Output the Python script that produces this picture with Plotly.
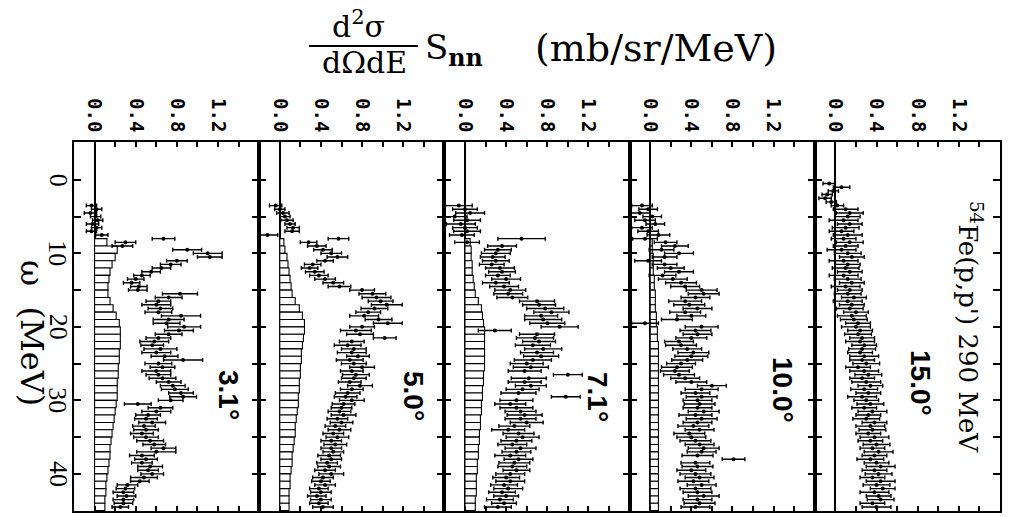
import plotly.graph_objects as go

# ---------------- data ----------------
OMEGA = [3.5, 4.0, 4.5, 5.0, 5.5, 6.0, 6.5, 7.0, 7.5,
         8.0, 8.5, 9.0, 9.5, 10.0, 10.5, 11.0, 11.5, 12.0, 12.5, 13.0, 13.5, 14.0, 14.5, 15.0,
         15.5, 16.0, 16.5, 17.0, 17.5, 18.0, 18.5, 19.0, 19.5, 20.0, 20.5, 21.0, 21.5, 22.0, 22.5,
         23.0, 23.5, 24.0, 24.5, 25.0, 25.5, 26.0, 26.5, 27.0, 27.5, 28.0, 28.5, 29.0, 29.5, 30.0,
         30.5, 31.0, 31.5, 32.0, 32.5, 33.0, 33.5, 34.0, 34.5, 35.0, 35.5, 36.0, 36.5, 37.0, 37.5,
         38.0, 38.5, 39.0, 39.5, 40.0, 40.5, 41.0, 41.5, 42.0, 42.5, 43.0, 43.5, 44.0, 44.5]

OMEGA_15 = [0.5, 1.0, 1.5, 2.0, 2.5, 3.0] + OMEGA

HIST_OMEGA = [8.5, 9.5, 10.5, 11.5, 12.5, 13.5, 14.5, 15.5, 16.5, 17.5, 18.5, 19.5, 20.5,
              21.5, 22.5, 23.5, 24.5, 25.5, 26.5, 27.5, 28.5, 29.5, 30.5, 31.5, 32.5, 33.5,
              34.5, 35.5, 36.5, 37.5, 38.5, 39.5, 40.5, 41.5, 42.5, 43.5, 44.5]

ANGLES = ["3.1°", "5.0°", "7.1°", "10.0°", "15.0°"]

VAL_31 = [-0.03, 0.02, -0.04, 0.01, 0.03, -0.02, 0.02, -0.03, 0.07,
          0.67, 0.30, 0.27, 0.90, 1.10, 1.12, 0.80, 0.74, 0.65, 0.55, 0.46, 0.40, 0.36, 0.43, 0.42,
          0.83, 0.72, 0.62, 0.60, 0.64, 0.62, 0.84, 0.72, 0.70, 0.87, 0.82, 0.72, 0.62, 0.58, 0.56,
          0.64, 0.60, 0.68, 0.86, 0.62, 0.66, 0.60, 0.62, 0.66, 0.72, 0.76, 0.78, 0.84, 0.86, 0.74,
          0.42, 0.64, 0.60, 0.52, 0.50, 0.56, 0.48, 0.50, 0.46, 0.50, 0.54, 0.58, 0.67, 0.60, 0.46,
          0.50, 0.46, 0.54, 0.52, 0.56, 0.48, 0.44, 0.32, 0.30, 0.28, 0.31, 0.28, 0.28, 0.25]
ERR_31 = [0.05, 0.05, 0.06, 0.05, 0.05, 0.06, 0.05, 0.05, 0.06,
          0.11, 0.10, 0.10, 0.14, 0.14, 0.12, 0.10, 0.10, 0.09, 0.09, 0.08, 0.08, 0.08, 0.08, 0.09,
          0.17, 0.13, 0.12, 0.14, 0.12, 0.13, 0.19, 0.15, 0.13, 0.16, 0.14, 0.13, 0.12, 0.14, 0.11,
          0.16, 0.14, 0.13, 0.19, 0.13, 0.12, 0.14, 0.12, 0.13, 0.12, 0.12, 0.13, 0.12, 0.13, 0.12,
          0.13, 0.12, 0.14, 0.12, 0.11, 0.13, 0.11, 0.12, 0.11, 0.12, 0.13, 0.11, 0.12, 0.19, 0.12,
          0.11, 0.10, 0.12, 0.10, 0.11, 0.13, 0.09, 0.10, 0.09, 0.10, 0.09, 0.10, 0.09, 0.08]
HIST_31 = [0.12, 0.22, 0.20, 0.17, 0.15, 0.14, 0.13, 0.13, 0.15, 0.18, 0.21, 0.24, 0.25,
           0.25, 0.25, 0.24, 0.24, 0.23, 0.23, 0.22, 0.22, 0.22, 0.21, 0.20, 0.19, 0.18,
           0.17, 0.16, 0.15, 0.15, 0.14, 0.13, 0.12, 0.11, 0.11, 0.10, 0.10]

VAL_50 = [-0.04, 0.00, 0.03, 0.05, 0.07, 0.10, 0.13, 0.12, -0.12,
          0.57, 0.28, 0.36, 0.42, 0.50, 0.56, 0.44, 0.32, 0.29, 0.34, 0.38, 0.44, 0.52, 0.58, 0.80,
          0.90, 0.94, 0.98, 1.04, 0.92, 0.86, 0.82, 0.96, 1.05, 0.80, 0.74, 0.78, 1.02, 0.70, 0.66,
          0.72, 0.70, 0.76, 0.68, 0.72, 0.80, 0.70, 0.74, 0.72, 0.68, 0.78, 0.70, 0.66, 0.64, 0.70,
          0.62, 0.60, 0.58, 0.62, 0.56, 0.60, 0.54, 0.58, 0.52, 0.56, 0.50, 0.54, 0.50, 0.52, 0.48,
          0.50, 0.46, 0.48, 0.44, 0.50, 0.42, 0.40, 0.44, 0.38, 0.40, 0.36, 0.40, 0.38, 0.42]
ERR_50 = [0.06, 0.05, 0.06, 0.05, 0.06, 0.05, 0.06, 0.07, 0.10,
          0.10, 0.08, 0.09, 0.09, 0.10, 0.10, 0.08, 0.08, 0.08, 0.09, 0.09, 0.10, 0.10, 0.11, 0.12,
          0.13, 0.14, 0.12, 0.15, 0.13, 0.12, 0.14, 0.13, 0.14, 0.12, 0.15, 0.13, 0.11, 0.12, 0.13,
          0.12, 0.14, 0.11, 0.13, 0.12, 0.12, 0.11, 0.13, 0.12, 0.11, 0.12, 0.11, 0.12, 0.11, 0.12,
          0.11, 0.10, 0.11, 0.12, 0.10, 0.11, 0.10, 0.11, 0.10, 0.11, 0.10, 0.11, 0.10, 0.10, 0.11,
          0.10, 0.10, 0.11, 0.10, 0.12, 0.10, 0.09, 0.10, 0.09, 0.10, 0.09, 0.10, 0.09, 0.10]
HIST_50 = [0.04, 0.05, 0.07, 0.08, 0.09, 0.10, 0.11, 0.12, 0.15, 0.19, 0.22, 0.24, 0.24,
           0.23, 0.22, 0.21, 0.21, 0.20, 0.20, 0.19, 0.19, 0.18, 0.18, 0.17, 0.16, 0.15,
           0.15, 0.14, 0.13, 0.12, 0.12, 0.11, 0.10, 0.10, 0.09, 0.09, 0.09]

VAL_71 = [-0.06, 0.00, 0.05, -0.10, 0.02, -0.04, 0.00, 0.02, -0.03,
          0.55, 0.02, 0.36, 0.32, 0.30, 0.27, 0.30, 0.26, 0.34, 0.36, 0.32, 0.40, 0.30, 0.38, 0.44,
          0.42, 0.46, 0.70, 0.72, 0.78, 0.84, 0.74, 0.76, 0.80, 0.92, 0.29, 0.70, 0.68, 0.72, 0.66,
          0.76, 0.70, 0.74, 0.66, 0.60, 0.64, 0.58, 1.00, 0.62, 0.58, 0.64, 0.56, 0.52, 0.98, 0.50,
          0.44, 0.50, 0.54, 0.58, 0.54, 0.60, 0.48, 0.42, 0.52, 0.56, 0.50, 0.46, 0.54, 0.50, 0.44,
          0.52, 0.48, 0.46, 0.50, 0.44, 0.40, 0.44, 0.38, 0.42, 0.36, 0.40, 0.34, 0.38, 0.32]
ERR_71 = [0.13, 0.12, 0.14, 0.12, 0.13, 0.14, 0.12, 0.13, 0.12,
          0.23, 0.12, 0.14, 0.13, 0.14, 0.12, 0.13, 0.12, 0.14, 0.13, 0.12, 0.14, 0.13, 0.14, 0.15,
          0.14, 0.15, 0.17, 0.16, 0.18, 0.17, 0.16, 0.18, 0.17, 0.18, 0.16, 0.17, 0.18, 0.16, 0.17,
          0.18, 0.16, 0.17, 0.18, 0.16, 0.17, 0.16, 0.14, 0.17, 0.16, 0.15, 0.16, 0.17, 0.14, 0.16,
          0.15, 0.16, 0.15, 0.17, 0.15, 0.16, 0.15, 0.16, 0.15, 0.16, 0.15, 0.14, 0.15, 0.14, 0.15,
          0.14, 0.15, 0.14, 0.13, 0.14, 0.13, 0.14, 0.13, 0.14, 0.13, 0.12, 0.13, 0.12, 0.13]
HIST_71 = [0.05, 0.06, 0.06, 0.07, 0.07, 0.08, 0.09, 0.10, 0.13, 0.16, 0.17, 0.18, 0.19,
           0.19, 0.19, 0.19, 0.19, 0.19, 0.18, 0.18, 0.17, 0.17, 0.16, 0.16, 0.15, 0.15,
           0.14, 0.14, 0.13, 0.13, 0.12, 0.12, 0.11, 0.11, 0.11, 0.10, 0.10]

VAL_100 = [-0.08, -0.02, -0.10, 0.02, -0.05, 0.05, -0.08, -0.02, 0.08,
           -0.05, 0.15, 0.24, 0.11, 0.28, 0.14, -0.02, 0.14, 0.20, 0.28, 0.12, 0.22, 0.30, 0.34, 0.50,
           0.52, 0.44, 0.34, 0.38, 0.46, 0.34, 0.40, 0.26, -0.05, 0.50, 0.44, 0.46, 0.40, 0.28, 0.30,
           0.36, 0.42, 0.40, 0.36, 0.30, 0.26, 0.24, 0.28, 0.34, 0.40, 0.60, 0.50, 0.44, 0.50, 0.46,
           0.48, 0.46, 0.52, 0.44, 0.50, 0.46, 0.42, 0.48, 0.38, 0.40, 0.44, 0.48, 0.52, 0.50, 0.46,
           0.81, 0.44, 0.46, 0.40, 0.44, 0.48, 0.42, 0.50, 0.44, 0.46, 0.52, 0.46, 0.48, 0.44]
ERR_100 = [0.10, 0.09, 0.10, 0.09, 0.10, 0.09, 0.10, 0.10, 0.11,
           0.12, 0.11, 0.13, 0.12, 0.14, 0.12, 0.13, 0.12, 0.13, 0.14, 0.13, 0.14, 0.15, 0.14, 0.15,
           0.15, 0.14, 0.16, 0.15, 0.14, 0.15, 0.14, 0.15, 0.13, 0.16, 0.15, 0.14, 0.15, 0.14, 0.15,
           0.14, 0.15, 0.16, 0.15, 0.14, 0.15, 0.14, 0.15, 0.14, 0.15, 0.14, 0.16, 0.14, 0.15, 0.14,
           0.15, 0.14, 0.15, 0.16, 0.15, 0.14, 0.15, 0.14, 0.15, 0.14, 0.15, 0.14, 0.15, 0.14, 0.15,
           0.11, 0.14, 0.15, 0.14, 0.15, 0.14, 0.15, 0.14, 0.15, 0.14, 0.15, 0.14, 0.15, 0.14]
HIST_100 = [0.02, 0.02, 0.03, 0.03, 0.03, 0.04, 0.04, 0.05, 0.05, 0.05, 0.06, 0.06, 0.07,
            0.07, 0.08, 0.08, 0.08, 0.08, 0.08, 0.08, 0.08, 0.08, 0.08, 0.08, 0.08, 0.08,
            0.08, 0.08, 0.08, 0.08, 0.08, 0.08, 0.08, 0.08, 0.08, 0.08, 0.08]

VAL_150 = [-0.06, 0.06, -0.02, -0.08, -0.10, -0.04,
           0.02, 0.10, 0.14, 0.12, 0.08, 0.14, 0.10, 0.06, 0.12,
           0.08, 0.14, 0.10, 0.06, 0.12, 0.16, 0.08, 0.12, 0.10, 0.14, 0.08, 0.12, 0.16, 0.10, 0.14,
           0.12, 0.18, 0.12, 0.16, 0.14, 0.20, 0.16, 0.18, 0.22, 0.20, 0.24, 0.22, 0.26, 0.24, 0.28,
           0.26, 0.24, 0.28, 0.26, 0.30, 0.22, 0.28, 0.32, 0.26, 0.30, 0.34, 0.28, 0.32, 0.26, 0.30,
           0.34, 0.28, 0.36, 0.32, 0.30, 0.38, 0.34, 0.36, 0.32, 0.38, 0.34, 0.40, 0.36, 0.42, 0.38,
           0.34, 0.40, 0.44, 0.38, 0.42, 0.36, 0.44, 0.40, 0.46, 0.38, 0.42, 0.44, 0.36, 0.40]
ERR_150 = [0.06, 0.08, 0.05, 0.05, 0.06, 0.05,
           0.06, 0.12, 0.13, 0.12, 0.14, 0.12, 0.13, 0.12, 0.14,
           0.12, 0.13, 0.12, 0.14, 0.13, 0.12, 0.14, 0.12, 0.13, 0.12, 0.14, 0.13, 0.12, 0.14, 0.12,
           0.13, 0.12, 0.14, 0.12, 0.13, 0.12, 0.14, 0.13, 0.12, 0.14, 0.12, 0.13, 0.12, 0.14, 0.12,
           0.13, 0.12, 0.14, 0.12, 0.13, 0.12, 0.14, 0.13, 0.12, 0.14, 0.12, 0.13, 0.12, 0.14, 0.12,
           0.13, 0.12, 0.14, 0.12, 0.13, 0.12, 0.14, 0.13, 0.12, 0.14, 0.12, 0.13, 0.12, 0.14, 0.12,
           0.13, 0.12, 0.14, 0.12, 0.13, 0.12, 0.14, 0.13, 0.12, 0.14, 0.12, 0.13, 0.12, 0.14]

X_TICKS = [0.0, 0.4, 0.8, 1.2]
X_TICKTEXT = ["0.0", "0.4", "0.8", "1.2"]
X_MINOR = [-0.2, 0.2, 0.6, 1.0, 1.4]
Y_TICKS = [0, 10, 20, 30, 40]
Y_TICKTEXT = ["0", "10", "20", "30", "40"]
Y_MINOR = [5, 15, 25, 35]

PANELS = [
    (OMEGA, VAL_31, ERR_31, HIST_31),
    (OMEGA, VAL_50, ERR_50, HIST_50),
    (OMEGA, VAL_71, ERR_71, HIST_71),
    (OMEGA, VAL_100, ERR_100, HIST_100),
    (OMEGA_15, VAL_150, ERR_150, None),
]

# ---------------- layout helpers ----------------
W, H = 1009, 517
def px(x):
    return x / W
def py(y):
    return 1 - y / H

EDGES = [74, 259.2, 444.4, 629.6, 814.8, 1000]
Y_TOP, Y_BOT = 142, 511

fig = go.Figure()
layout_axes = {}
for i, (om, vals, errs, hist) in enumerate(PANELS):
    n = "" if i == 0 else str(i + 1)
    xa, ya = "x" + n, "y" + n
    if hist is not None:
        fig.add_trace(go.Bar(
            x=hist, y=HIST_OMEGA, orientation="h", width=1.0, base=0,
            marker=dict(color="white", line=dict(color="black", width=1.1)),
            xaxis=xa, yaxis=ya, showlegend=False, hoverinfo="skip"))
    fig.add_trace(go.Scatter(
        x=vals, y=om, mode="markers",
        marker=dict(color="black", size=4),
        error_x=dict(type="data", array=errs, color="black", thickness=1.4, width=2),
        xaxis=xa, yaxis=ya, showlegend=False))

    layout_axes["xaxis" + n] = dict(
        domain=[px(EDGES[i]), px(EDGES[i + 1])], anchor=ya,
        range=[-0.2, 1.6], side="top",
        tickmode="array", tickvals=X_TICKS, ticktext=X_TICKTEXT,
        ticks="inside", ticklen=5, tickwidth=1.5, tickcolor="black",
        minor=dict(tickmode="array", tickvals=X_MINOR, ticks="inside",
                   ticklen=5, tickwidth=1.5, tickcolor="black"),
        tickangle=90, ticklabelstandoff=1,
        tickfont=dict(family="DejaVu Sans Mono", size=19, color="black", weight="bold"),
        showline=True, linecolor="black", linewidth=2, mirror="allticks",
        zeroline=True, zerolinecolor="black", zerolinewidth=1.6,
        showgrid=False, fixedrange=True)
    layout_axes["yaxis" + n] = dict(
        domain=[py(Y_BOT), py(Y_TOP)], anchor=xa,
        range=[45.05, -5.15],
        tickmode="array", tickvals=Y_TICKS,
        ticks="inside", ticklen=7, tickwidth=1.5, tickcolor="black",
        minor=dict(tickmode="array", tickvals=Y_MINOR, ticks="inside",
                   ticklen=7, tickwidth=1.5, tickcolor="black"),
        showticklabels=False,
        showline=True, linecolor="black", linewidth=2, mirror="allticks",
        zeroline=False, showgrid=False, fixedrange=True)

SERIF = "DejaVu Serif"
annotations = [
    dict(x=px(358), y=py(25), text="d<sup>2</sup>σ", font=dict(family=SERIF, size=30)),
    dict(x=px(364), y=py(62), text="dΩdE", font=dict(family=SERIF, size=30)),
    dict(x=px(423), y=py(49), text="S<sub><b>nn</b></sub>", xanchor="left",
         font=dict(family=SERIF, size=34)),
    dict(x=px(656), y=py(48), text="(mb/sr/MeV)", font=dict(family=SERIF, size=38)),
    dict(x=px(32), y=py(333), text="ω  (MeV)", textangle=90, font=dict(family=SERIF, size=32)),
    dict(x=px(970), y=py(327), text="<sup>54</sup>Fe(p,p') 290 MeV", textangle=90,
         font=dict(family=SERIF, size=26)),
]
# omega tick labels (rotated, left of the first panel), positioned on the y axis scale
for v, t in zip(Y_TICKS, Y_TICKTEXT):
    annotations.append(dict(x=px(58), y=v, yref="y", text=t, textangle=90,
                            font=dict(family="Liberation Serif", size=26)))
LABEL_POS = [(229, 395), (414, 396), (598, 397), (783, 390), (921, 383)]
for (lx, ly), txt in zip(LABEL_POS, ANGLES):
    annotations.append(dict(x=px(lx), y=py(ly), text=txt, textangle=90,
                            font=dict(family="Liberation Sans", size=28, weight="bold")))
for a in annotations:
    a.setdefault("xref", "paper")
    a.setdefault("yref", "paper")
    a["showarrow"] = False
    a.setdefault("xanchor", "center")
    a.setdefault("yanchor", "middle")
    a["font"]["color"] = "black"

fig.update_layout(
    width=W, height=H, autosize=False,
    margin=dict(l=0, r=0, t=0, b=0),
    paper_bgcolor="white", plot_bgcolor="white",
    barmode="overlay",
    annotations=annotations,
    shapes=[dict(type="line", xref="paper", yref="paper",
                 x0=px(309), x1=px(418), y0=py(46), y1=py(46),
                 line=dict(color="black", width=2))],
    **layout_axes)

fig.write_html("out.html")
